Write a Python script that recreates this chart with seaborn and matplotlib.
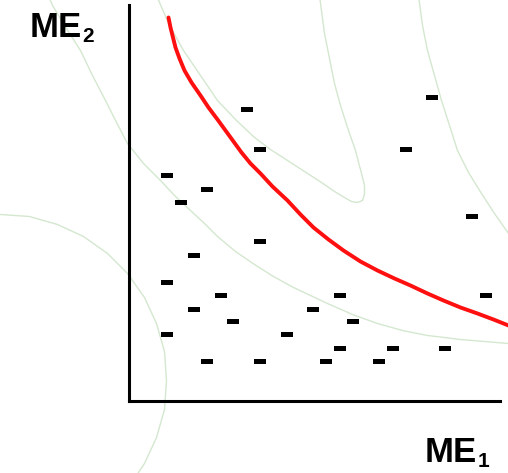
"""
Dispersão ME1 x ME2 com fronteira (curva vermelha) e contornos de fundo
"""
import matplotlib
matplotlib.use("Agg")
import matplotlib.pyplot as plt
import seaborn as sns
from matplotlib.path import Path

# Pontos (traços) - coordenadas no referencial ME1 x ME2
dash_x = [118, 131, 303, 277, 38, 78, 52, 343, 131, 65, 38, 92, 65, 104,
          184, 211, 224, 357, 38, 158, 78, 131, 197, 211, 250, 264, 316]
dash_y = [291, 251, 303, 251, 225, 211, 198, 184, 159, 145, 118, 105, 91, 79,
          91, 105, 79, 105, 66, 66, 39, 39, 39, 52, 39, 52, 52]

# Curva vermelha (fronteira)
front_x = [40, 42, 44, 47, 51, 56, 63, 72, 80, 89, 97, 105, 113, 122, 132, 144,
           159, 172, 185, 200, 215, 232, 249, 266, 282, 299, 315, 332, 349, 365, 380]
front_y = [383, 373, 365, 353, 342, 330, 318, 305, 293, 281, 270, 259, 248, 237, 227, 214,
           200, 186, 173, 161, 150, 139, 130, 122, 115, 107, 100, 93, 87, 81, 75]

# Contornos verdes de fundo
cont1_x = [-80, -76, -62, -48, -36, -23, -12, -1, 15, 32, 47, 62, 76, 89,
           107, 126, 145, 165, 182, 199, 224, 249, 274, 299, 316, 332, 356, 380]
cont1_y = [405, 395, 372, 350, 325, 300, 278, 257, 237, 220, 204, 190, 177, 164,
           149, 136, 124, 113, 105, 97, 86, 77, 70, 65, 63, 61, 59, 57]
cont2_x = [28, 41, 55, 72, 89, 107, 126, 142, 159, 176, 193, 206, 216, 223, 229,
           234, 236, 236, 233, 227, 219, 212, 206, 201, 196, 191]
cont2_y = [405, 375, 350, 325, 300, 281, 263, 251, 240, 229, 218, 209, 203, 199, 198,
           200, 206, 215, 227, 250, 273, 295, 317, 342, 367, 405]
cont3_x = [290, 294, 299, 306, 313, 321, 329, 340, 353, 366, 380]
cont3_y = [405, 375, 350, 325, 300, 275, 250, 228, 207, 187, 167]
circ_x = [-128, -99, -71, -45, -21, -1, 16, 28, 36, 38, 36, 28, 16, 8]
circ_y = [186, 184, 176, 164, 147, 127, 103, 77, 49, 20, -9, -37, -63, -75]

sns.set_style("white")

fig = plt.figure(figsize=(5.08, 4.73), dpi=100)
ax = fig.add_axes([128.5 / 508, 72.5 / 473, 371.5 / 508, 395.5 / 473])
ax.set_xlim(0, 371.5)
ax.set_ylim(0, 395.5)

green = "#d4e7cf"
for cx, cy in [(cont1_x, cont1_y), (cont2_x, cont2_y), (cont3_x, cont3_y), (circ_x, circ_y)]:
    ax.plot(cx, cy, color=green, lw=1.0, clip_on=False, zorder=1,
            solid_joinstyle="round")

# Curva vermelha
sns.lineplot(x=front_x, y=front_y, sort=False, estimator=None, color="#ff1010",
             lw=2.8, ax=ax, clip_on=False, zorder=3, solid_joinstyle="round")

# Traços pretos
dash = Path([(-6, -2.5), (6, -2.5), (6, 2.5), (-6, 2.5), (-6, -2.5)],
            [Path.MOVETO, Path.LINETO, Path.LINETO, Path.LINETO, Path.CLOSEPOLY])
sns.scatterplot(x=dash_x, y=dash_y, marker=dash, s=(12 * 0.72) ** 2,
                color="black", edgecolor="none", linewidth=0, ax=ax,
                clip_on=False, zorder=4)

# Eixos em L
for side in ["top", "right"]:
    ax.spines[side].set_visible(False)
for side in ["left", "bottom"]:
    ax.spines[side].set_linewidth(2.2)
    ax.spines[side].set_color("black")
ax.set_xticks([])
ax.set_yticks([])

# Rótulos
font = dict(family="Liberation Sans", fontweight="bold", color="black")
fig.text(30 / 508, 1 - 37 / 473, "ME", fontsize=25, va="baseline", ha="left", **font)
fig.text(82 / 508, 1 - 42 / 473, "2", fontsize=15, va="baseline", ha="left", **font)
fig.text(425 / 508, 1 - 462 / 473, "ME", fontsize=25, va="baseline", ha="left", **font)
fig.text(478 / 508, 1 - 467 / 473, "1", fontsize=15, va="baseline", ha="left", **font)

fig.savefig("out.png", dpi=100)
